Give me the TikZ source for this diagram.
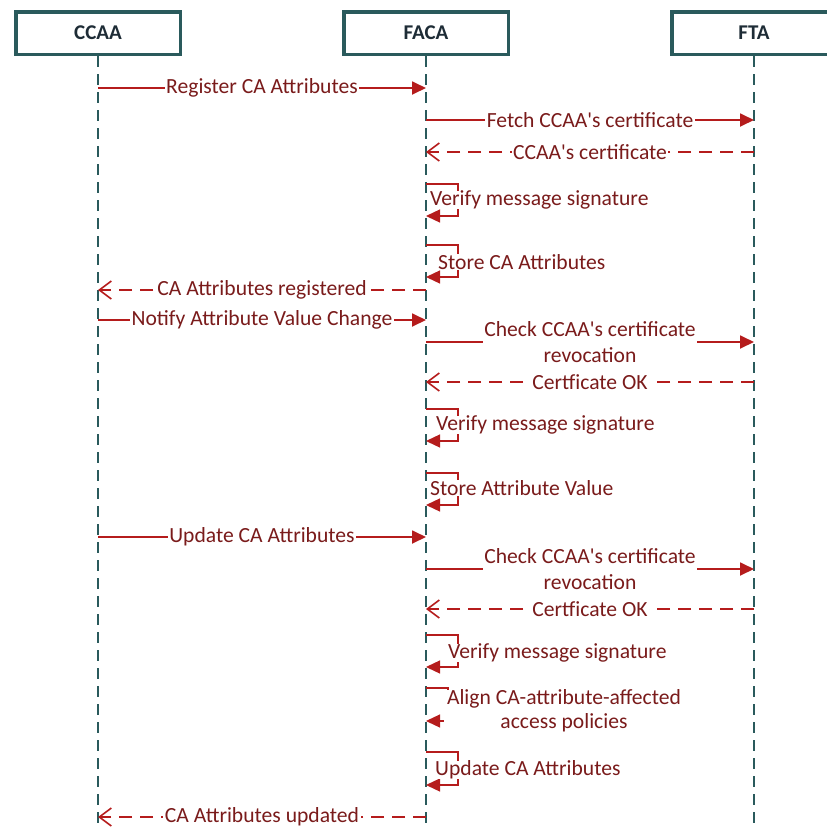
\documentclass[tikz,border=0pt]{standalone}
\usepackage{fontspec}
\setmainfont{Carlito}
\usetikzlibrary{arrows.meta}
\definecolor{lifeteal}{HTML}{2A5A5C}
\definecolor{hdrink}{HTML}{1E2C36}
\definecolor{msgred}{HTML}{B51C1C}
\definecolor{lblred}{HTML}{7A1B1B}
\newcommand{\apos}{\textquotesingle}
\tikzset{
  actor/.style={draw=lifeteal, line width=3.5pt, minimum width=164.5pt, minimum height=42.5pt,
    inner sep=0pt, font=\fontsize{21}{25}\selectfont\bfseries, text=hdrink},
  lifeline/.style={draw=lifeteal, line width=2.2pt, dash pattern=on 11pt off 7pt},
  lbl/.style={fill=white, text=lblred, inner xsep=1.5pt, inner ysep=0pt,
    font=\fontsize{21.6}{26}\selectfont, align=center},
  looplbl/.style={text=lblred, fill=white, inner xsep=1pt, inner ysep=0pt,
    font=\fontsize{21.6}{24}\selectfont, align=center},
  call/.style={draw=msgred, line width=1.8pt, -{Triangle[length=14pt,width=13pt]}},
  reply/.style={draw=msgred, line width=1.8pt, dash pattern=on 13pt off 8pt,
    -{Straight Barb[length=12pt,width=18pt,line width=1.6pt]}},
  selfcall/.style={draw=msgred, line width=1.3pt, -{Triangle[length=14pt,width=13pt]}}
}
\begin{document}
\begin{tikzpicture}[x=1pt,y=-1pt]
\useasboundingbox (0,0) rectangle (827,828);
\clip (0,0) rectangle (827,828);

% participants
\node[actor] (ccaa) at (98,33) {CCAA};
\node[actor] (faca) at (426,33) {FACA};
\node[actor] (fta)  at (754,33) {FTA};

% lifeline ends
\coordinate (ccaaend) at (98,828);
\coordinate (facaend) at (426,828);
\coordinate (ftaend)  at (754,828);
\draw[lifeline] (ccaa.south) -- (ccaaend);
\draw[lifeline] (faca.south) -- (facaend);
\draw[lifeline] (fta.south) -- (ftaend);

% registration
\coordinate (c1) at (98,88);   \coordinate (f1) at (426,88);
\draw[call] (c1) -- node[lbl] {Register CA Attributes} (f1);
\coordinate (f2) at (426,120); \coordinate (t2) at (754,120);
\draw[call] (f2) -- node[lbl] {Fetch CCAA\apos s certificate} (t2);
\coordinate (t3) at (754,152); \coordinate (f3) at (426,152);
\draw[reply] (t3) -- node[lbl] {CCAA\apos s certificate} (f3);

\coordinate (v1a) at (426,184); \coordinate (v1b) at (426,216);
\draw[selfcall] (v1a) -- ++(32,0) |- (v1b);
\node[looplbl, anchor=west] (v1l) at (429,200) {Verify message signature};

\coordinate (s1a) at (426,245); \coordinate (s1b) at (426,277);
\draw[selfcall] (s1a) -- ++(32,0) |- (s1b);
\node[looplbl, anchor=west] (s1l) at (437,262) {Store CA Attributes};

\coordinate (f6) at (426,290); \coordinate (c6) at (98,290);
\draw[reply] (f6) -- node[lbl] {CA Attributes registered} (c6);

% attribute value change
\coordinate (c7) at (98,320);  \coordinate (f7) at (426,320);
\draw[call] (c7) -- node[lbl] {Notify Attribute Value Change} (f7);
\coordinate (f8) at (426,342); \coordinate (t8) at (754,342);
\draw[call] (f8) -- node[lbl] {Check CCAA\apos s certificate\\revocation} (t8);
\coordinate (t9) at (754,382); \coordinate (f9) at (426,382);
\draw[reply] (t9) -- node[lbl] {Certficate OK} (f9);

\coordinate (v2a) at (426,409); \coordinate (v2b) at (426,441);
\draw[selfcall] (v2a) -- ++(32,0) |- (v2b);
\node[looplbl, anchor=west] (v2l) at (435,425) {Verify message signature};

\coordinate (s2a) at (426,473); \coordinate (s2b) at (426,505);
\draw[selfcall] (s2a) -- ++(32,0) |- (s2b);
\node[looplbl, anchor=west] (s2l) at (429,488) {Store Attribute Value};

% attribute update
\coordinate (c12) at (98,537);  \coordinate (f12) at (426,537);
\draw[call] (c12) -- node[lbl] {Update CA Attributes} (f12);
\coordinate (f13) at (426,569); \coordinate (t13) at (754,569);
\draw[call] (f13) -- node[lbl] {Check CCAA\apos s certificate\\revocation} (t13);
\coordinate (t14) at (754,609); \coordinate (f14) at (426,609);
\draw[reply] (t14) -- node[lbl] {Certficate OK} (f14);

\coordinate (v3a) at (426,635); \coordinate (v3b) at (426,667);
\draw[selfcall] (v3a) -- ++(32,0) |- (v3b);
\node[looplbl, anchor=west] (v3l) at (447,653) {Verify message signature};

\coordinate (al1) at (426,688); \coordinate (al2) at (426,721);
\draw[selfcall] (al1) -- ++(22,0) |- (al2);
\node[looplbl, inner xsep=3pt] (all) at (564,711) {Align CA-attribute-affected\\access policies};

\coordinate (u1a) at (426,752); \coordinate (u1b) at (426,785);
\draw[selfcall] (u1a) -- ++(32,0) |- (u1b);
\node[looplbl, anchor=west] (u1l) at (434,770) {Update CA Attributes};

\coordinate (f18) at (426,817); \coordinate (c18) at (98,817);
\draw[reply] (f18) -- node[lbl] {CA Attributes updated} (c18);
\end{tikzpicture}
\end{document}
